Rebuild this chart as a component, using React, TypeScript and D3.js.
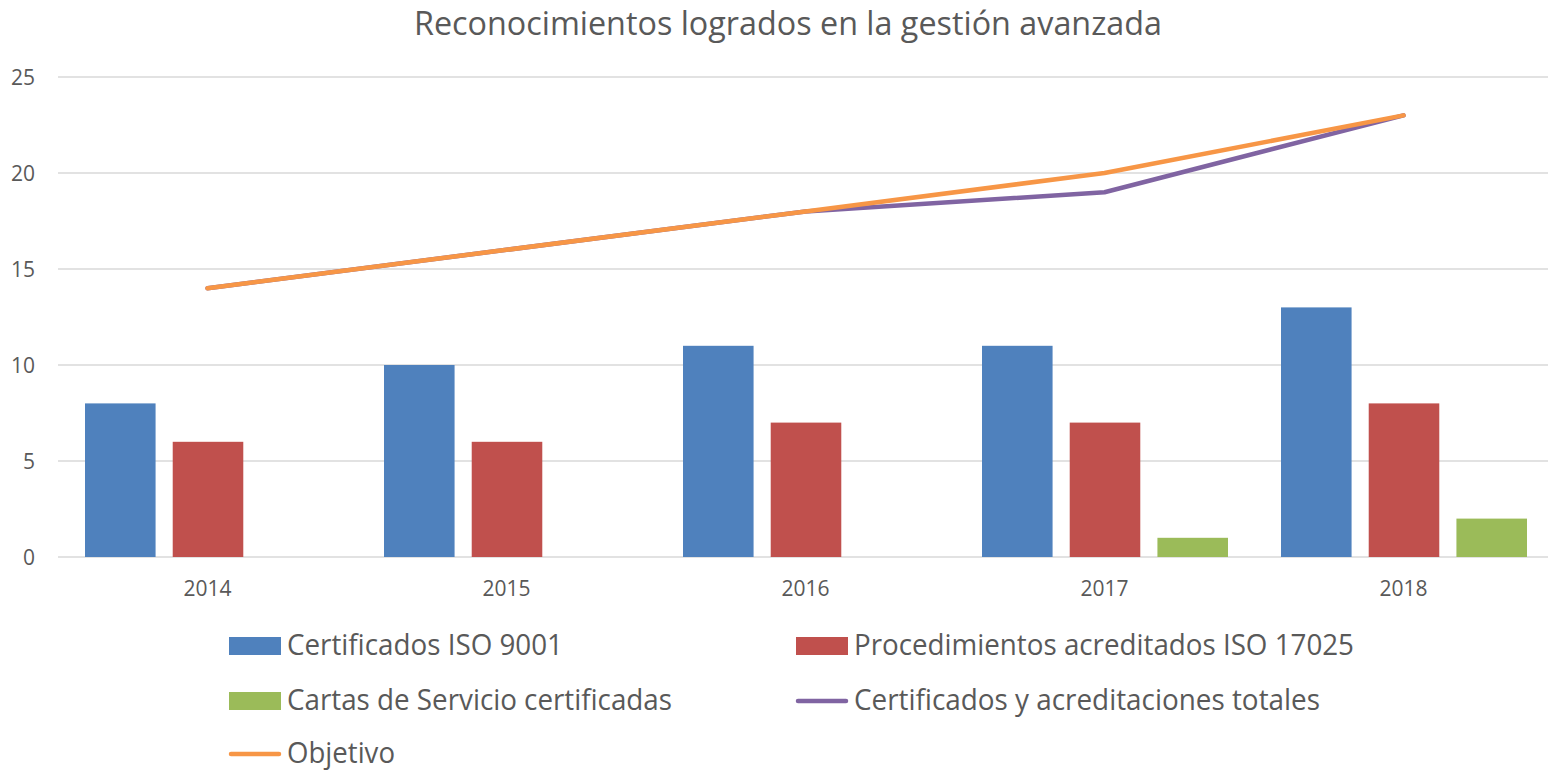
import React, { useEffect } from "react";
import * as d3 from "d3";

const years = ["2014", "2015", "2016", "2017", "2018"];
const iso9001 = [8, 10, 11, 11, 13];
const iso17025 = [6, 6, 7, 7, 8];
const cartas = [0, 0, 0, 1, 2];
const totales = [14, 16, 18, 19, 23];
const objetivo = [14, 16, 18, 20, 23];
const yTicks = [0, 5, 10, 15, 20, 25];

const barSeries = [
  { name: "Certificados ISO 9001", values: iso9001, color: "#4F81BD" },
  { name: "Procedimientos acreditados ISO 17025", values: iso17025, color: "#C0504D" },
  { name: "Cartas de Servicio certificadas", values: cartas, color: "#9BBB59" },
];
const lineSeries = [
  { name: "Certificados y acreditaciones totales", values: totales, color: "#8064A2" },
  { name: "Objetivo", values: objetivo, color: "#F79646" },
];

const W = 1548;
const H = 770;
const FONT = "'Open Sans', 'Liberation Sans', sans-serif";
const TXT = "#595959";

export default function App() {
  useEffect(() => {
    document.body.style.margin = "0";
  }, []);

  const x = d3.scaleBand<string>().domain(years).range([58, 1553]).padding(0);
  const sub = d3
    .scaleBand<number>()
    .domain([0, 1, 2])
    .range([27, 273])
    .paddingInner(17 / 87)
    .paddingOuter(0);
  const y = d3.scaleLinear().domain([0, 25]).range([557, 77]);

  const line = d3
    .line<number>()
    .x((_, i) => (x(years[i]) as number) + x.bandwidth() / 2)
    .y((d) => y(d));

  const legend = [
    { name: barSeries[0].name, color: barSeries[0].color, type: "bar", lx: 229, cy: 646, tl: 276 },
    { name: barSeries[1].name, color: barSeries[1].color, type: "bar", lx: 796, cy: 646, tl: 500 },
    { name: barSeries[2].name, color: barSeries[2].color, type: "bar", lx: 229, cy: 701, tl: 385 },
    { name: lineSeries[0].name, color: lineSeries[0].color, type: "line", lx: 796, cy: 701, tl: 466 },
    { name: lineSeries[1].name, color: lineSeries[1].color, type: "line", lx: 229, cy: 754, tl: 108 },
  ];

  return (
    <svg width={W} height={H} style={{ display: "block", background: "#fff" }} fontFamily={FONT}>
      <text x={788} y={35} textAnchor="middle" fontSize={32} fill={TXT} textLength={748} lengthAdjust="spacingAndGlyphs">
        Reconocimientos logrados en la gestión avanzada
      </text>
      {yTicks.map((t) => (
        <g key={t}>
          <line x1={58} x2={1548} y1={y(t)} y2={y(t)} stroke="#D9D9D9" strokeWidth={1.5} />
          <text x={35} y={y(t)} dy="0.36em" textAnchor="end" fontSize={21} fill={TXT}>
            {t}
          </text>
        </g>
      ))}
      {barSeries.map((s, si) =>
        s.values.map((v, i) => (
          <rect
            key={`${si}-${i}`}
            x={(x(years[i]) as number) + (sub(si) as number)}
            width={sub.bandwidth()}
            y={y(v)}
            height={y(0) - y(v)}
            fill={s.color}
          />
        ))
      )}
      {lineSeries.map((s) => (
        <path
          key={s.name}
          d={line(s.values) as string}
          fill="none"
          stroke={s.color}
          strokeWidth={4.5}
          strokeLinecap="round"
          strokeLinejoin="round"
        />
      ))}
      {years.map((yr) => (
        <text
          key={yr}
          x={(x(yr) as number) + x.bandwidth() / 2}
          y={596}
          textAnchor="middle"
          fontSize={21}
          fill={TXT}
        >
          {yr}
        </text>
      ))}
      {legend.map((l) => (
        <g key={l.name}>
          {l.type === "bar" ? (
            <rect x={l.lx} y={l.cy - 9} width={52} height={18} fill={l.color} />
          ) : (
            <line
              x1={l.lx + 2}
              x2={l.lx + 50}
              y1={l.cy}
              y2={l.cy}
              stroke={l.color}
              strokeWidth={4.5}
              strokeLinecap="round"
            />
          )}
          <text
            x={l.lx + 58}
            y={l.cy + 9}
            fontSize={29}
            fill={TXT}
            textLength={l.tl}
            lengthAdjust="spacingAndGlyphs"
          >
            {l.name}
          </text>
        </g>
      ))}
    </svg>
  );
}
